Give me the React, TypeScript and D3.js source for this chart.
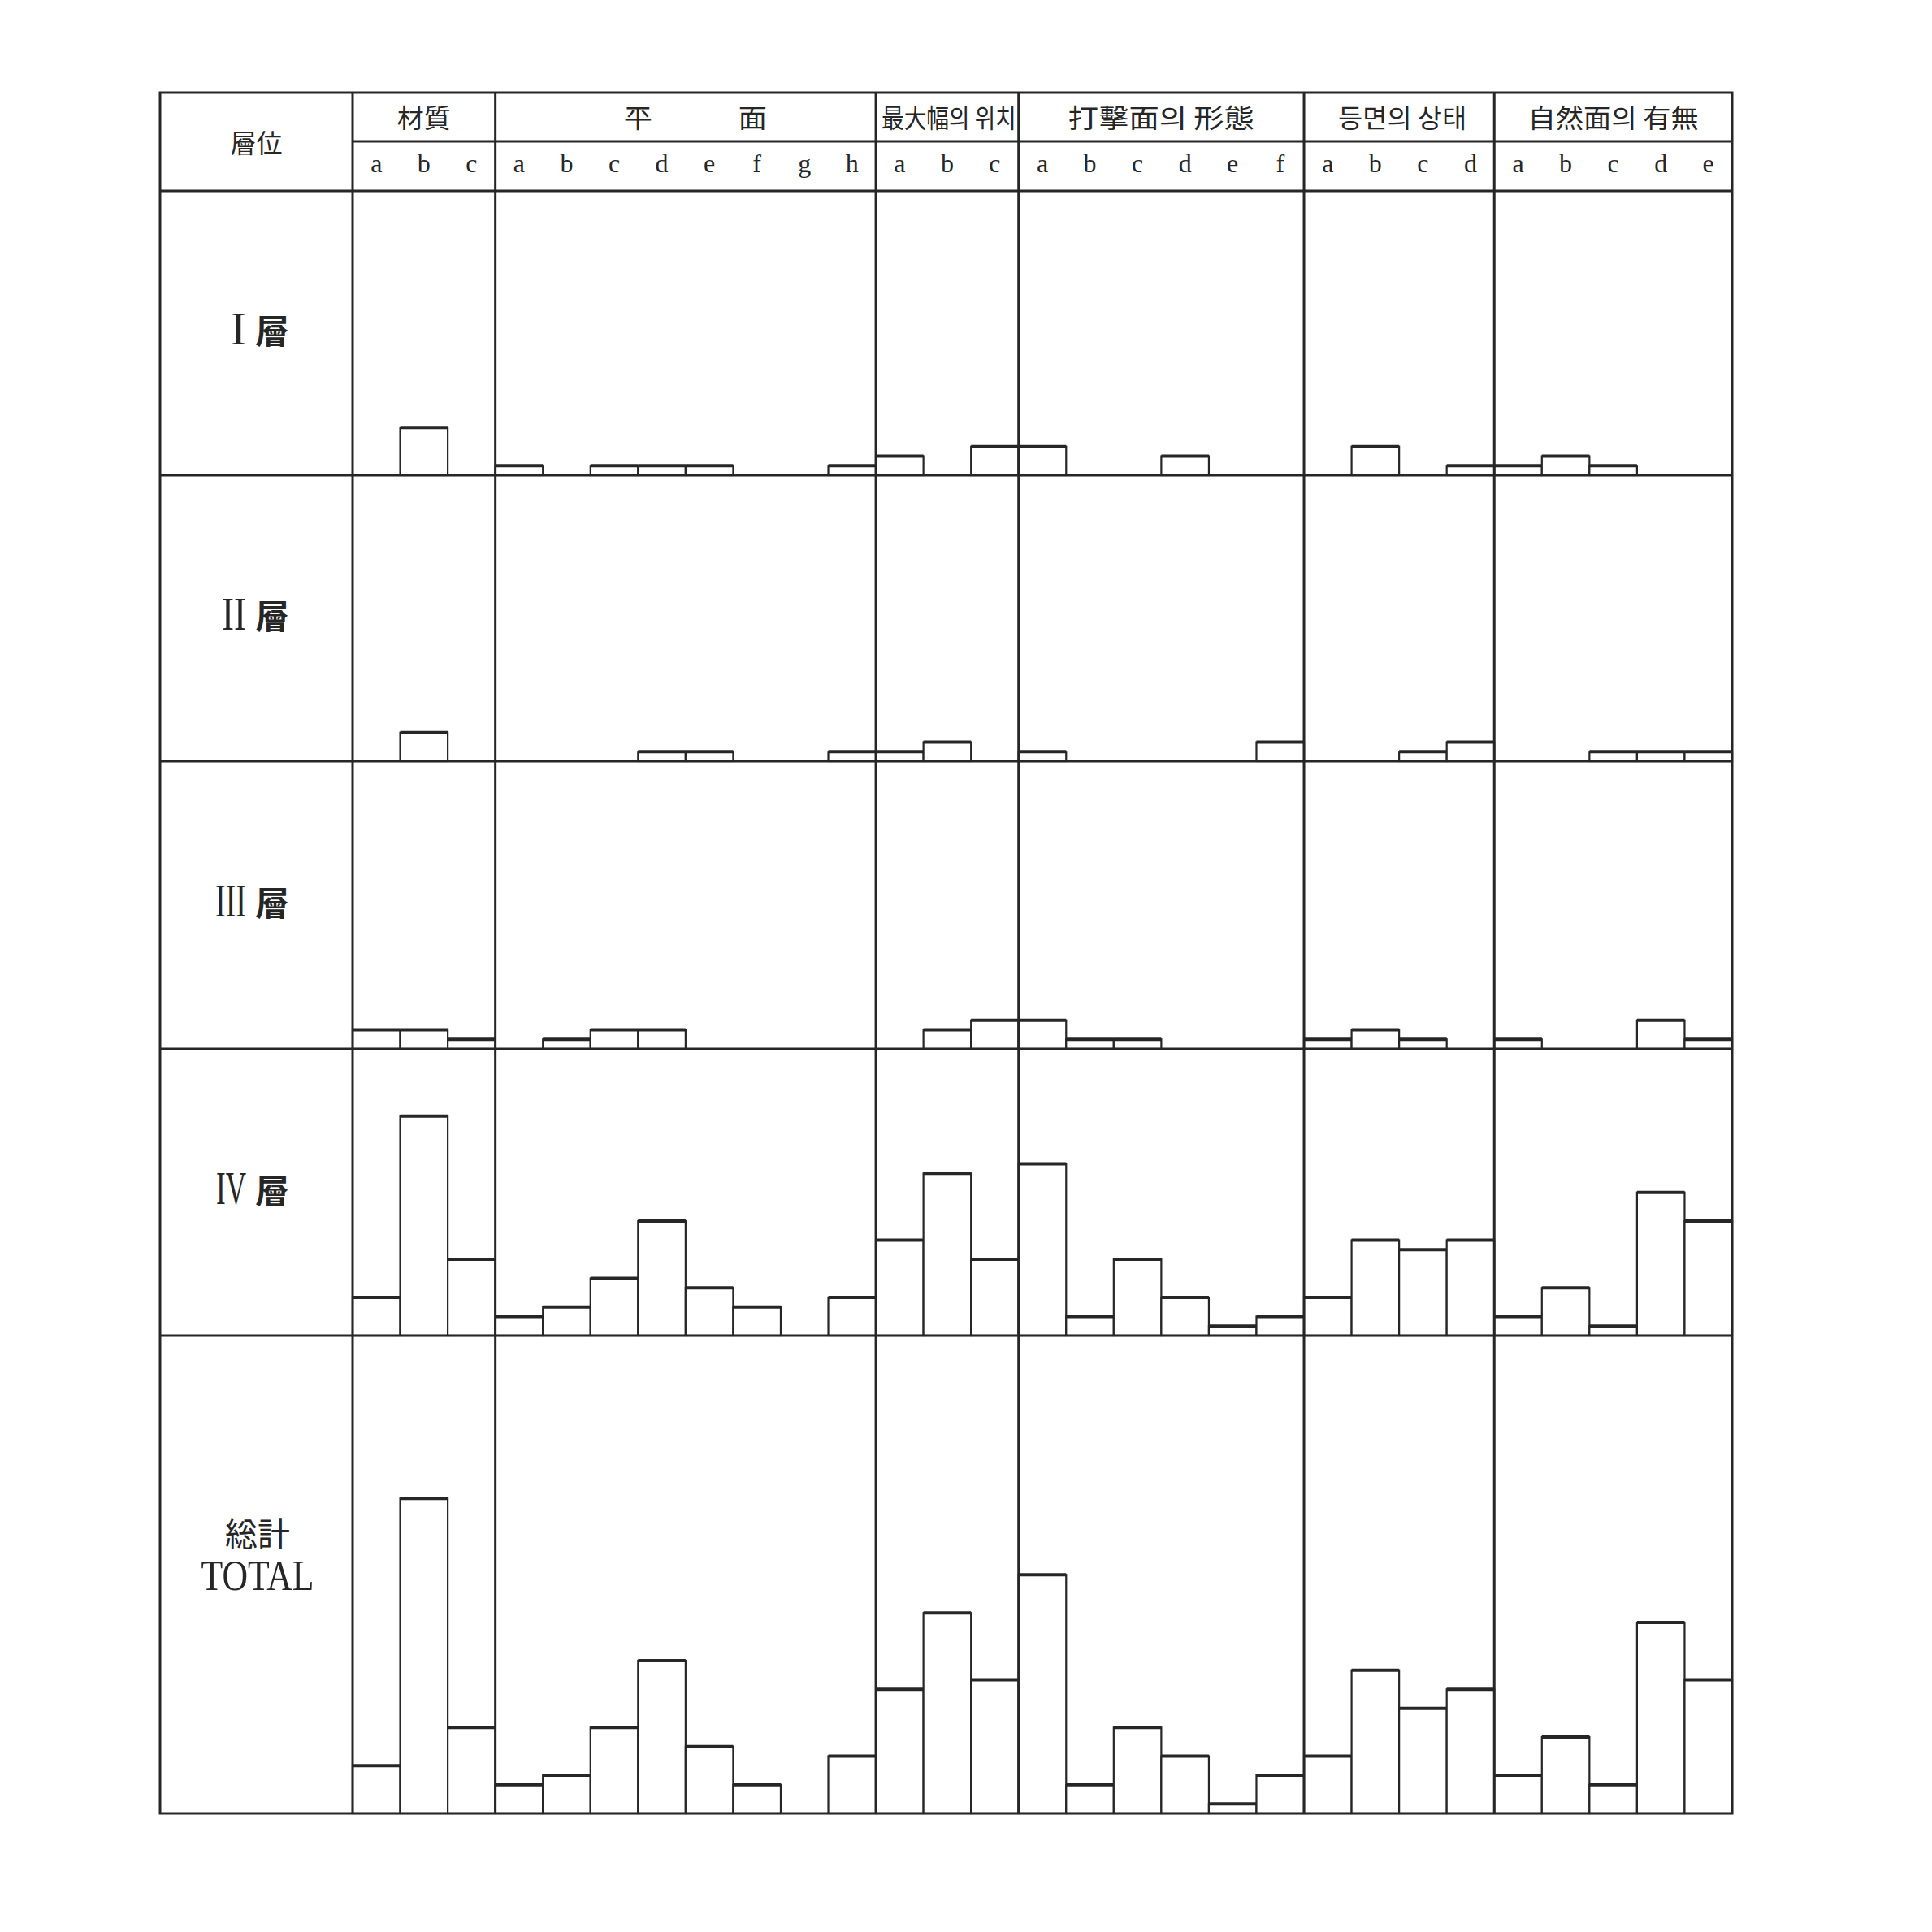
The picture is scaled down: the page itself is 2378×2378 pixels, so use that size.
import React from 'react';
import * as d3 from 'd3';

// attribute groups and their classes
const groupNames = ['材質', '平　　　面', '最大幅의 위치', '打擊面의  形態', '등면의 상태', '自然面의  有無'];
const materialKeys = ['a', 'b', 'c'];
const planKeys = ['a', 'b', 'c', 'd', 'e', 'f', 'g', 'h'];
const maxWidthKeys = ['a', 'b', 'c'];
const strikeKeys = ['a', 'b', 'c', 'd', 'e', 'f'];
const dorsalKeys = ['a', 'b', 'c', 'd'];
const cortexKeys = ['a', 'b', 'c', 'd', 'e'];
const groupKeys = [materialKeys, planKeys, maxWidthKeys, strikeKeys, dorsalKeys, cortexKeys];

const layerNumerals = ['I', 'II', 'III', 'IV'];

// counts per class, in group order (3 + 8 + 3 + 6 + 4 + 5)
const layer1 = [0, 5, 0, 1, 0, 1, 1, 1, 0, 0, 1, 2, 0, 3, 3, 0, 0, 2, 0, 0, 0, 3, 0, 1, 1, 2, 1, 0, 0];
const layer2 = [0, 3, 0, 0, 0, 0, 1, 1, 0, 0, 1, 1, 2, 0, 1, 0, 0, 0, 0, 2, 0, 0, 1, 2, 0, 0, 1, 1, 1];
const layer3 = [2, 2, 1, 0, 1, 2, 2, 0, 0, 0, 0, 0, 2, 3, 3, 1, 1, 0, 0, 0, 1, 2, 1, 0, 1, 0, 0, 3, 1];
const layer4 = [4, 23, 8, 2, 3, 6, 12, 5, 3, 0, 4, 10, 17, 8, 18, 2, 8, 4, 1, 2, 4, 10, 9, 10, 2, 5, 1, 15, 12];
const layerTotal = [5, 33, 9, 3, 4, 9, 16, 7, 3, 0, 6, 13, 21, 14, 25, 3, 9, 6, 1, 4, 6, 15, 11, 13, 4, 8, 3, 20, 14];
const rowsData = [layer1, layer2, layer3, layer4, layerTotal];

// layout
const L = 197, R = 2132, T = 114, B = 2232;
const colX = 434, subY = 174;
const rowTops = [235, 585, 937, 1291, 1644];
const headerLen = [66, 176, 166, 229, 158, 210];
const headerShift = [0, 12, 2, 0, 4, 0];
const numeralLen = [20, 30, 38, 37];
const numeralSize = 56;
const ink = '#262626';

// serif advance widths (em) used to condense the roman numerals
const adv: Record<string, number> = { I: 0.333, V: 0.722 };

export default function App() {
  const ids = groupKeys.flatMap((ks, g) => ks.map(k => `${g}-${k}`));
  const x = d3.scaleBand().domain(ids).range([colX, R]).paddingInner(0).paddingOuter(0);
  const unit = d3.scaleLinear().domain([0, 50]).range([0, 587.5]);
  const bw = x.bandwidth();

  let start = 0;
  const groups = groupKeys.map((ks, g) => {
    const x0 = x(ids[start])!;
    const x1 = x(ids[start + ks.length - 1])! + bw;
    start += ks.length;
    return { g, x0, x1 };
  });

  const rowBottoms = rowTops.map((t, i) => (i < rowTops.length - 1 ? rowTops[i + 1] : B));
  const cjk = '"Noto Sans CJK KR", "Noto Sans CJK JP", sans-serif';
  const serif = '"Liberation Serif", "DejaVu Serif", serif';

  return (
    <svg width={2378} height={2378} style={{ position: 'absolute', left: 0, top: 0, background: '#fff' }}>
      <rect x={0} y={0} width={2378} height={2378} fill="#fff" />

      {/* bars */}
      {rowsData.map((vals, r) =>
        vals.map((v, i) => {
          if (!v) return null;
          const base = rowBottoms[r];
          const h = unit(v);
          const x0 = x(ids[i])!;
          return (
            <g key={`b${r}-${i}`}>
              <rect x={x0} y={base - h} width={bw} height={h} fill="#fff" stroke={ink} strokeWidth={2.2} />
              <line x1={x0} x2={x0 + bw} y1={base - h} y2={base - h} stroke={ink} strokeWidth={4} />
            </g>
          );
        })
      )}

      {/* grid */}
      <g stroke={ink} strokeWidth={3} fill="none">
        <rect x={L} y={T} width={R - L} height={B - T} />
        <line x1={colX} x2={R} y1={subY} y2={subY} />
        {rowTops.map((y, i) => (
          <line key={`h${i}`} x1={L} x2={R} y1={y} y2={y} />
        ))}
        <line x1={colX} x2={colX} y1={T} y2={B} />
        {groups.slice(1).map(gr => (
          <line key={`v${gr.g}`} x1={gr.x0} x2={gr.x0} y1={T} y2={B} />
        ))}
      </g>

      {/* header */}
      <text x={(L + colX) / 2} y={174} fontFamily={cjk} fontSize={32} textAnchor="middle" dominantBaseline="central" fill={ink}>
        層位
      </text>
      {groups.map(gr => (
        <text
          key={`gn${gr.g}`}
          x={(gr.x0 + gr.x1) / 2 + headerShift[gr.g]}
          y={143}
          fontFamily={cjk}
          fontSize={32}
          textAnchor="middle"
          dominantBaseline="central"
          textLength={headerLen[gr.g]}
          lengthAdjust="spacingAndGlyphs"
          fill={ink}
        >
          {groupNames[gr.g]}
        </text>
      ))}
      {ids.map(id => (
        <text key={`k${id}`} x={x(id)! + bw / 2} y={212} fontFamily={serif} fontSize={32} textAnchor="middle" fill={ink}>
          {id.split('-')[1]}
        </text>
      ))}

      {/* layer labels */}
      {layerNumerals.map((n, i) => {
        const cy = (rowTops[i] + rowBottoms[i]) / 2;
        const natural = n.split('').reduce((s, c) => s + adv[c], 0) * numeralSize;
        const sx = Math.min(1, numeralLen[i] / natural);
        return (
          <g key={`l${i}`} fill={ink}>
            <g transform={`translate(303, ${cy + 14}) scale(${sx}, 1)`}>
              <text x={0} y={0} fontFamily={serif} fontSize={numeralSize} textAnchor="end">
                {n}
              </text>
            </g>
            <text x={314} y={cy + 13} fontFamily={cjk} fontSize={42} fontWeight={700}>
              層
            </text>
          </g>
        );
      })}
      <text x={317} y={1903} fontFamily={cjk} fontSize={40} textAnchor="middle" fill={ink}>
        総計
      </text>
      <text x={317} y={1957} fontFamily={serif} fontSize={53} textAnchor="middle" textLength={139} lengthAdjust="spacingAndGlyphs" fill={ink}>
        TOTAL
      </text>
    </svg>
  );
}
